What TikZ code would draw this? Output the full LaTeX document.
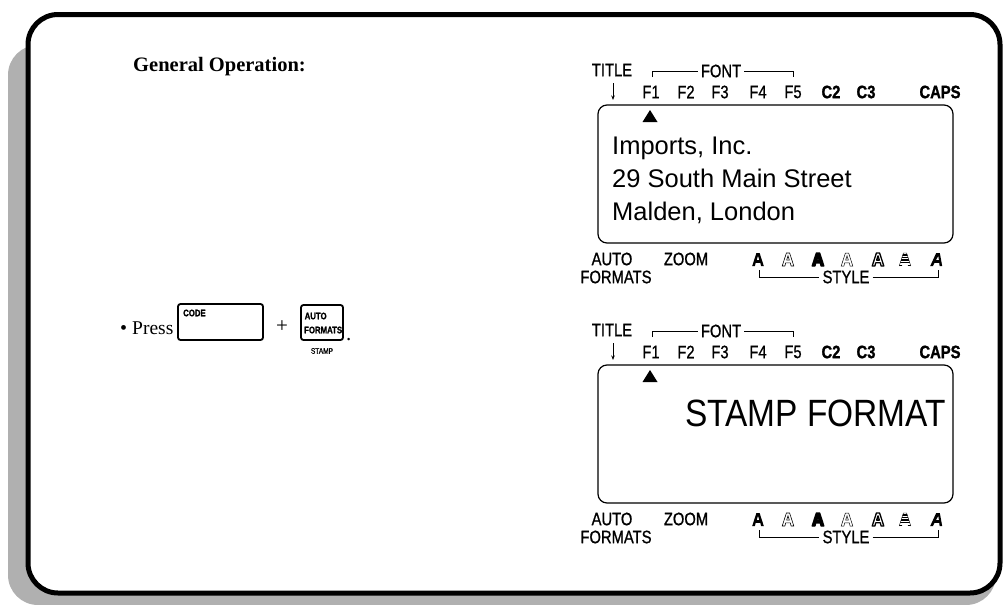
\documentclass[tikz,border=0pt]{standalone}
\usepackage{fontspec}
\setmainfont{Liberation Serif}
\newfontfamily\lcdfont[FakeStretch=0.82, FakeBold=0.9]{Liberation Sans}
\newfontfamily\lcdbold[FakeStretch=0.82, FakeBold=1.2]{Liberation Sans Bold}
\newfontfamily\lcdbig{Liberation Sans}
\newfontfamily\lcdbigc[FakeStretch=0.88]{Liberation Sans}
\usetikzlibrary{arrows.meta}
\tikzset{
  lab/.style={inner sep=0pt, font=\lcdfont\fontsize{18}{18}\selectfont},
  labb/.style={inner sep=0pt, font=\lcdbold\fontsize{18}{18}\selectfont},
  brk/.style={line width=0.8pt},
  lcdscreen/.style={draw, line width=1.2pt, rounded corners=9pt, minimum width=355pt, minimum height=138pt, inner sep=0pt},
  keybox/.style={draw, line width=1.8pt, rounded corners=2.5pt, inner sep=0pt},
  keytxt/.style={inner sep=0pt, font=\lcdbold\fontsize{9.5}{9.5}\selectfont},
  Ashape/.pic={\path[even odd rule, pic actions] (-5.8,0) -- (-1.6,-13) -- (1.6,-13) -- (5.8,0) -- (3.1,0) -- (2.3,-3.2) -- (-2.3,-3.2) -- (-3.1,0) -- cycle (-1.35,-5.9) -- (0,-10.2) -- (1.35,-5.9) -- cycle;},
  Aital/.pic={\path[even odd rule, pic actions] (-6.8,0) -- (-0.8,-13) -- (2.8,-13) -- (5.2,0) -- (2.6,0) -- (2.2,-3.2) -- (-2.5,-3.2) -- (-4,0) -- cycle (-1.0,-5.9) -- (1.3,-10.2) -- (1.9,-5.9) -- cycle;},
  Astripe/.pic={
    \begin{scope}
      \clip (-5.8,0) -- (-1.6,-13) -- (1.6,-13) -- (5.8,0) -- (3.1,0) -- (2.3,-3.2) -- (-2.3,-3.2) -- (-3.1,0) -- cycle;
      \foreach \k in {0,2.6,...,13} \fill (-7,-\k) rectangle (7,-\k-1.4);
    \end{scope}
    \draw[line width=0.4pt] (-5.8,0) -- (-1.6,-13) -- (1.6,-13) -- (5.8,0);
  },
  lcdpanel/.pic={
    \node[lab] (-title) at (612,70) {TITLE};
    \node[lab] (-font) at (721,71) {FONT};
    \draw[brk] (652,77) |- ([xshift=-3pt]-font.west);
    \draw[brk] ([xshift=3pt]-font.east) -| (793,77);
    \coordinate (-arrtop) at (613,83);
    \coordinate (-arrbot) at (613,100);
    \draw[line width=1pt, -{Stealth[length=4.5pt,width=3.5pt]}] (-arrtop) -- (-arrbot);
    \node[lab] (-f1) at (651,92) {F1};
    \node[lab] (-f2) at (686,92) {F2};
    \node[lab] (-f3) at (720,92) {F3};
    \node[lab] (-f4) at (758,92) {F4};
    \node[lab] (-f5) at (793,92) {F5};
    \node[labb] (-c2) at (831,92) {C2};
    \node[labb] (-c3) at (866,92) {C3};
    \node[labb] (-caps) at (940,92) {CAPS};
    \node[lcdscreen] (-screen) at (775.5,174) {};
    \fill (650,110) -- (657.5,122) -- (642.5,122) -- cycle;
    \node[lab] (-auto) at (612,259) {AUTO};
    \node[lab] (-formats) at (616,277) {FORMATS};
    \node[lab] (-zoom) at (686,259) {ZOOM};
    \pic[fill=black] at (758,266) {Ashape};
    \pic[draw, fill=white, line width=0.6pt] at (788,266) {Ashape};
    \pic[fill=black, draw, line width=1.4pt, line join=round] at (818,266) {Ashape};
    \pic[draw, line width=0.5pt] at (847,266) {Ashape};
    \pic[draw, fill=white, line width=1.3pt, line join=round] at (878,266) {Ashape};
    \pic at (905,266) {Astripe};
    \pic[fill=black] at (937,266) {Aital};
    \node[lab] (-style) at (846,277) {STYLE};
    \draw[brk] (759,270) |- ([xshift=-3pt]-style.west);
    \draw[brk] ([xshift=3pt]-style.east) -| (938,270);
  }
}
\begin{document}
\begin{tikzpicture}[x=1pt,y=-1pt]
  \useasboundingbox (0,0) rectangle (1004,605);
  % frame with shadow
  \fill[gray!62, rounded corners=30pt] (8,45) rectangle (996,605);
  \draw[line width=5pt, fill=white, rounded corners=30pt] (28,14.5) rectangle (1000,593);

  \node[anchor=west, inner sep=0pt, font=\bfseries\fontsize{20.5}{20.5}\selectfont] (head) at (133,67) {General Operation:};

  \node[anchor=base west, inner sep=0pt, font=\fontsize{20}{20}\selectfont] (bullet) at (120,334) {\textbullet};
  \node[anchor=base west, inner sep=0pt, font=\fontsize{19.5}{19.5}\selectfont] (press) at (132,334) {Press};
  \node[keybox, minimum width=85pt, minimum height=36pt] (code) at (220.5,322) {};
  \node[keytxt, anchor=west] (codetxt) at (183,313) {CODE};
  \node[inner sep=0pt, font=\fontsize{21}{21}\selectfont] (plus) at (282,327) {+};
  \node[keybox, minimum width=42pt, minimum height=35pt] (afkey) at (322,322.5) {};
  \node[keytxt, anchor=west] (aftxt1) at (304.5,316) {AUTO};
  \node[keytxt, anchor=west] (aftxt2) at (304,330) {FORMATS};
  \node[inner sep=0pt, font=\lcdfont\fontsize{8}{8}\selectfont] (stamp) at (322,351) {STAMP};
  \node[anchor=base west, inner sep=0pt, font=\fontsize{21}{21}\selectfont] (dot) at (346,340) {.};

  \pic (d1) at (0,0) {lcdpanel};
  \pic (d2) at (0,260) {lcdpanel};

  \node[anchor=base west, inner sep=0pt, font=\lcdbig\fontsize{25.5}{25.5}\selectfont] (l1) at (612,154) {Imports, Inc.};
  \node[anchor=base west, inner sep=0pt, font=\lcdbig\fontsize{25.5}{25.5}\selectfont] (l2) at (612,187) {29 South Main Street};
  \node[anchor=base west, inner sep=0pt, font=\lcdbig\fontsize{25.5}{25.5}\selectfont] (l3) at (612,220) {Malden, London};
  \node[anchor=base east, inner sep=0pt, font=\lcdbigc\fontsize{38}{38}\selectfont] (sf) at (946,426) {STAMP FORMAT};
\end{tikzpicture}
\end{document}
